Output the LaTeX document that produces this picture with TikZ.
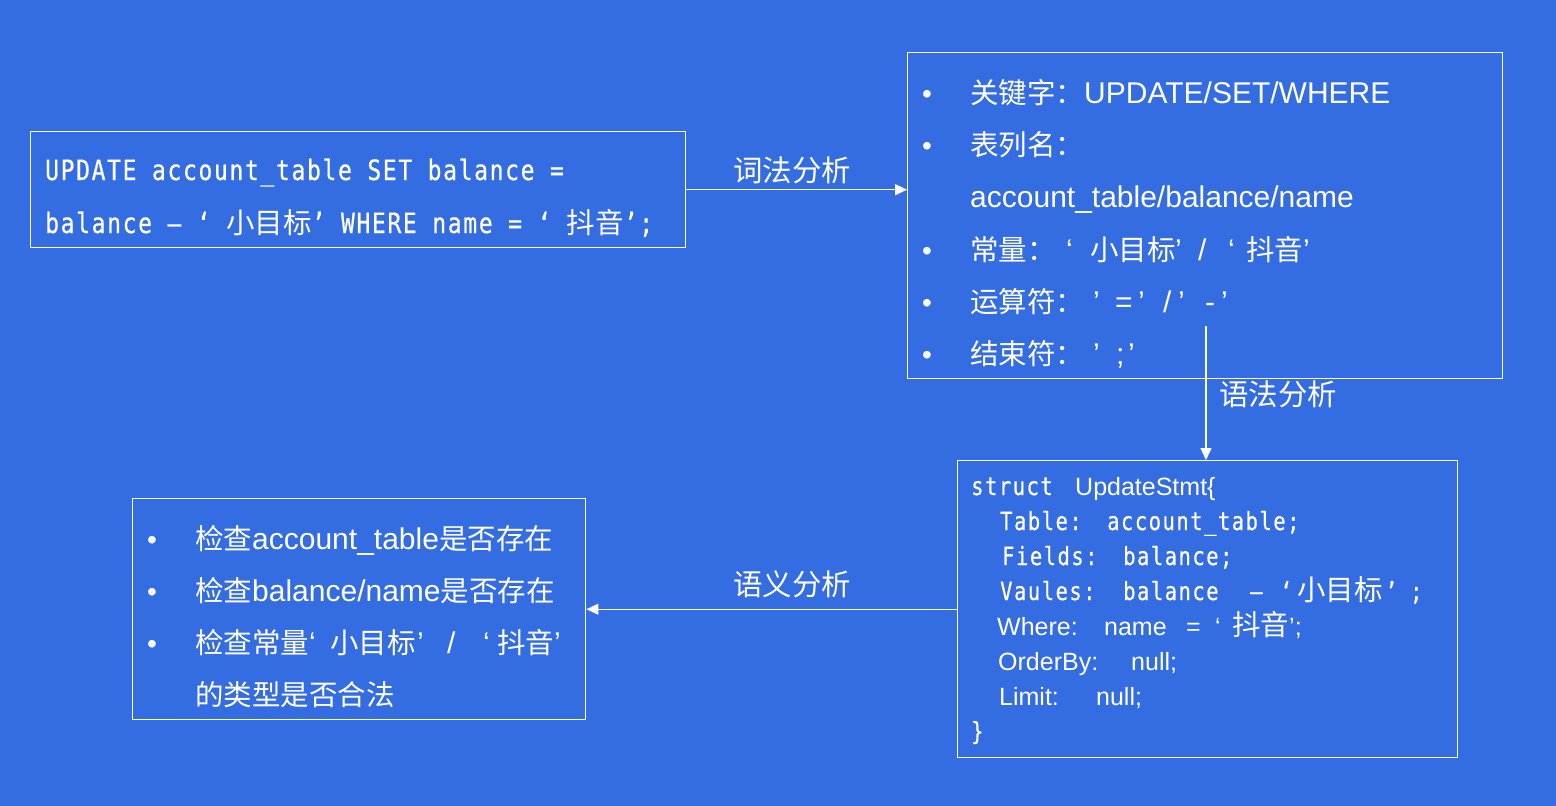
\documentclass[tikz,border=0pt]{standalone}
\usepackage{fontspec}
\setmainfont{Liberation Sans}
\newfontfamily\cjk[Scale=0.95]{Noto Sans CJK SC}
\newfontfamily\plain{Liberation Sans}
\newfontfamily\codefont[FakeStretch=0.82,LetterSpace=6,FakeBold=0.6]{DejaVu Sans Mono}
\newcommand\zh[1]{{\cjk #1}}
\newcommand\zhs[1]{{\fontsize{30}{30}\selectfont\cjk #1}}
\usetikzlibrary{arrows.meta}
\definecolor{bg}{RGB}{52,108,225}
\begin{document}
\begin{tikzpicture}[x=1pt,y=-1pt,
  box/.style={draw=white, line width=1.4pt, anchor=north west, inner sep=0pt},
  t/.style={text=white, anchor=base west, inner sep=0pt, font=\fontsize{30}{36}\selectfont},
  bul/.style={text=white, anchor=base, inner sep=0pt, font=\fontsize{28}{36}\selectfont},
  code/.style={t, font=\fontsize{28}{34}\selectfont\codefont},
  scode/.style={t, font=\fontsize{25}{30}\selectfont\codefont},
  ssans/.style={t, font=\fontsize{25}{30}\selectfont},
  lab/.style={text=white, anchor=center, inner sep=0pt, font=\fontsize{31}{36}\selectfont\cjk},
  arr/.style={draw=white, line width=1.4pt, -{Triangle[length=12pt,width=11pt]}}]
\fill[bg] (0,0) rectangle (1556,806);
\useasboundingbox (0,0) rectangle (1556,806);
% boxes
\node[box, minimum width=655pt, minimum height=116pt] (A) at (30,131) {};
\node[box, minimum width=595pt, minimum height=326pt] (B) at (907,52) {};
\node[box, minimum width=500pt, minimum height=297pt] (C) at (957,460) {};
\node[box, minimum width=453pt, minimum height=221pt] (D) at (132,498) {};
% box A
\node[code] (a1) at (45,180) {UPDATE account\_table SET balance =};
\node[code] (a2) at (45,233) {balance – ‘ \zhs{小目标}’ WHERE name = ‘ \zhs{抖音}’;};
% box B
\node[bul] (bb1) at (927,103) {•};
\node[bul] (bb2) at (927,155) {•};
\node[bul] (bb4) at (927,260) {•};
\node[bul] (bb5) at (927,312) {•};
\node[bul] (bb6) at (927,364) {•};
\node[t] (b1) at (970,103) {\zh{关键字：}UPDATE/SET/WHERE};
\node[t] (b2) at (970,155) {\zh{表列名：}};
\node[t] (b3) at (970,207) {account\_table/balance/name};
\node[t] (b4) at (970,260) {\makebox[96pt][l]{\zh{常量：}}\makebox[24pt][l]{‘}\makebox[85pt][l]{\zh{小目标}}\makebox[23pt][l]{’}\makebox[30pt][l]{/}\makebox[18pt][l]{‘}\zh{抖音}’};
\node[t] (b5) at (970,312) {\makebox[123pt][l]{\zh{运算符：}}\makebox[22pt][l]{’}\makebox[23pt][l]{=}\makebox[25pt][l]{’}\makebox[15pt][l]{/}\makebox[27pt][l]{’}\makebox[16pt][l]{-}’};
\node[t] (b6) at (970,364) {\makebox[123pt][l]{\zh{结束符：}}\makebox[23pt][l]{’}\makebox[12pt][l]{;}’};
% box C
\node[scode] (c1) at (971,495) {\makebox[104pt][l]{struct}{\plain UpdateStmt\{}};
\node[scode] (c2) at (1000,530) {\makebox[107pt][l]{Table:}account\_table;};
\node[scode] (c3) at (1002,565) {\makebox[121pt][l]{Fields:}balance;};
\node[scode] (c4) at (1000,600) {\makebox[123pt][l]{Vaules:}\makebox[127pt][l]{balance}\makebox[30pt][l]{–}\makebox[17pt][l]{‘}\makebox[88pt][l]{\zhs{小目标}}\makebox[25pt][l]{’};};
\node[ssans] (c5) at (997,635) {\makebox[107pt][l]{Where:}\makebox[82pt][l]{name}\makebox[29pt][l]{=}\makebox[17pt][l]{‘}\zhs{抖音}’;};
\node[ssans] (c6) at (998,670) {\makebox[133pt][l]{OrderBy:}null;};
\node[ssans] (c7) at (999,705) {\makebox[97pt][l]{Limit:}null;};
\node[scode] (c8) at (971,740) {\}};
% box D
\node[bul] (db1) at (152,549) {•};
\node[bul] (db2) at (152,601) {•};
\node[bul] (db3) at (152,653) {•};
\node[t] (d1) at (195,549) {\zh{检查}account\_table\zh{是否存在}};
\node[t] (d2) at (195,601) {\zh{检查}balance/name\zh{是否存在}};
\node[t] (d3) at (195,653) {\makebox[135pt][l]{\zh{检查常量}‘}\makebox[87pt][l]{\zh{小目标}}\makebox[30pt][l]{’}\makebox[36pt][l]{/}\makebox[14pt][l]{‘}\zh{抖音}’};
\node[t] (d4) at (195,705) {\zh{的类型是否合法}};
% connectors
\node[lab] (l1) at (792,170) {词法分析};
\node[lab] (l2) at (1278,394) {语法分析};
\node[lab] (l3) at (792,584) {语义分析};
\coordinate (s2) at (1206,326);
\draw[arr] (A.east) -- (A.east -| B.west);
\draw[arr] (s2) -- (s2 |- C.north);
\draw[arr] (C.west) -- (C.west -| D.east);
\end{tikzpicture}
\end{document}
